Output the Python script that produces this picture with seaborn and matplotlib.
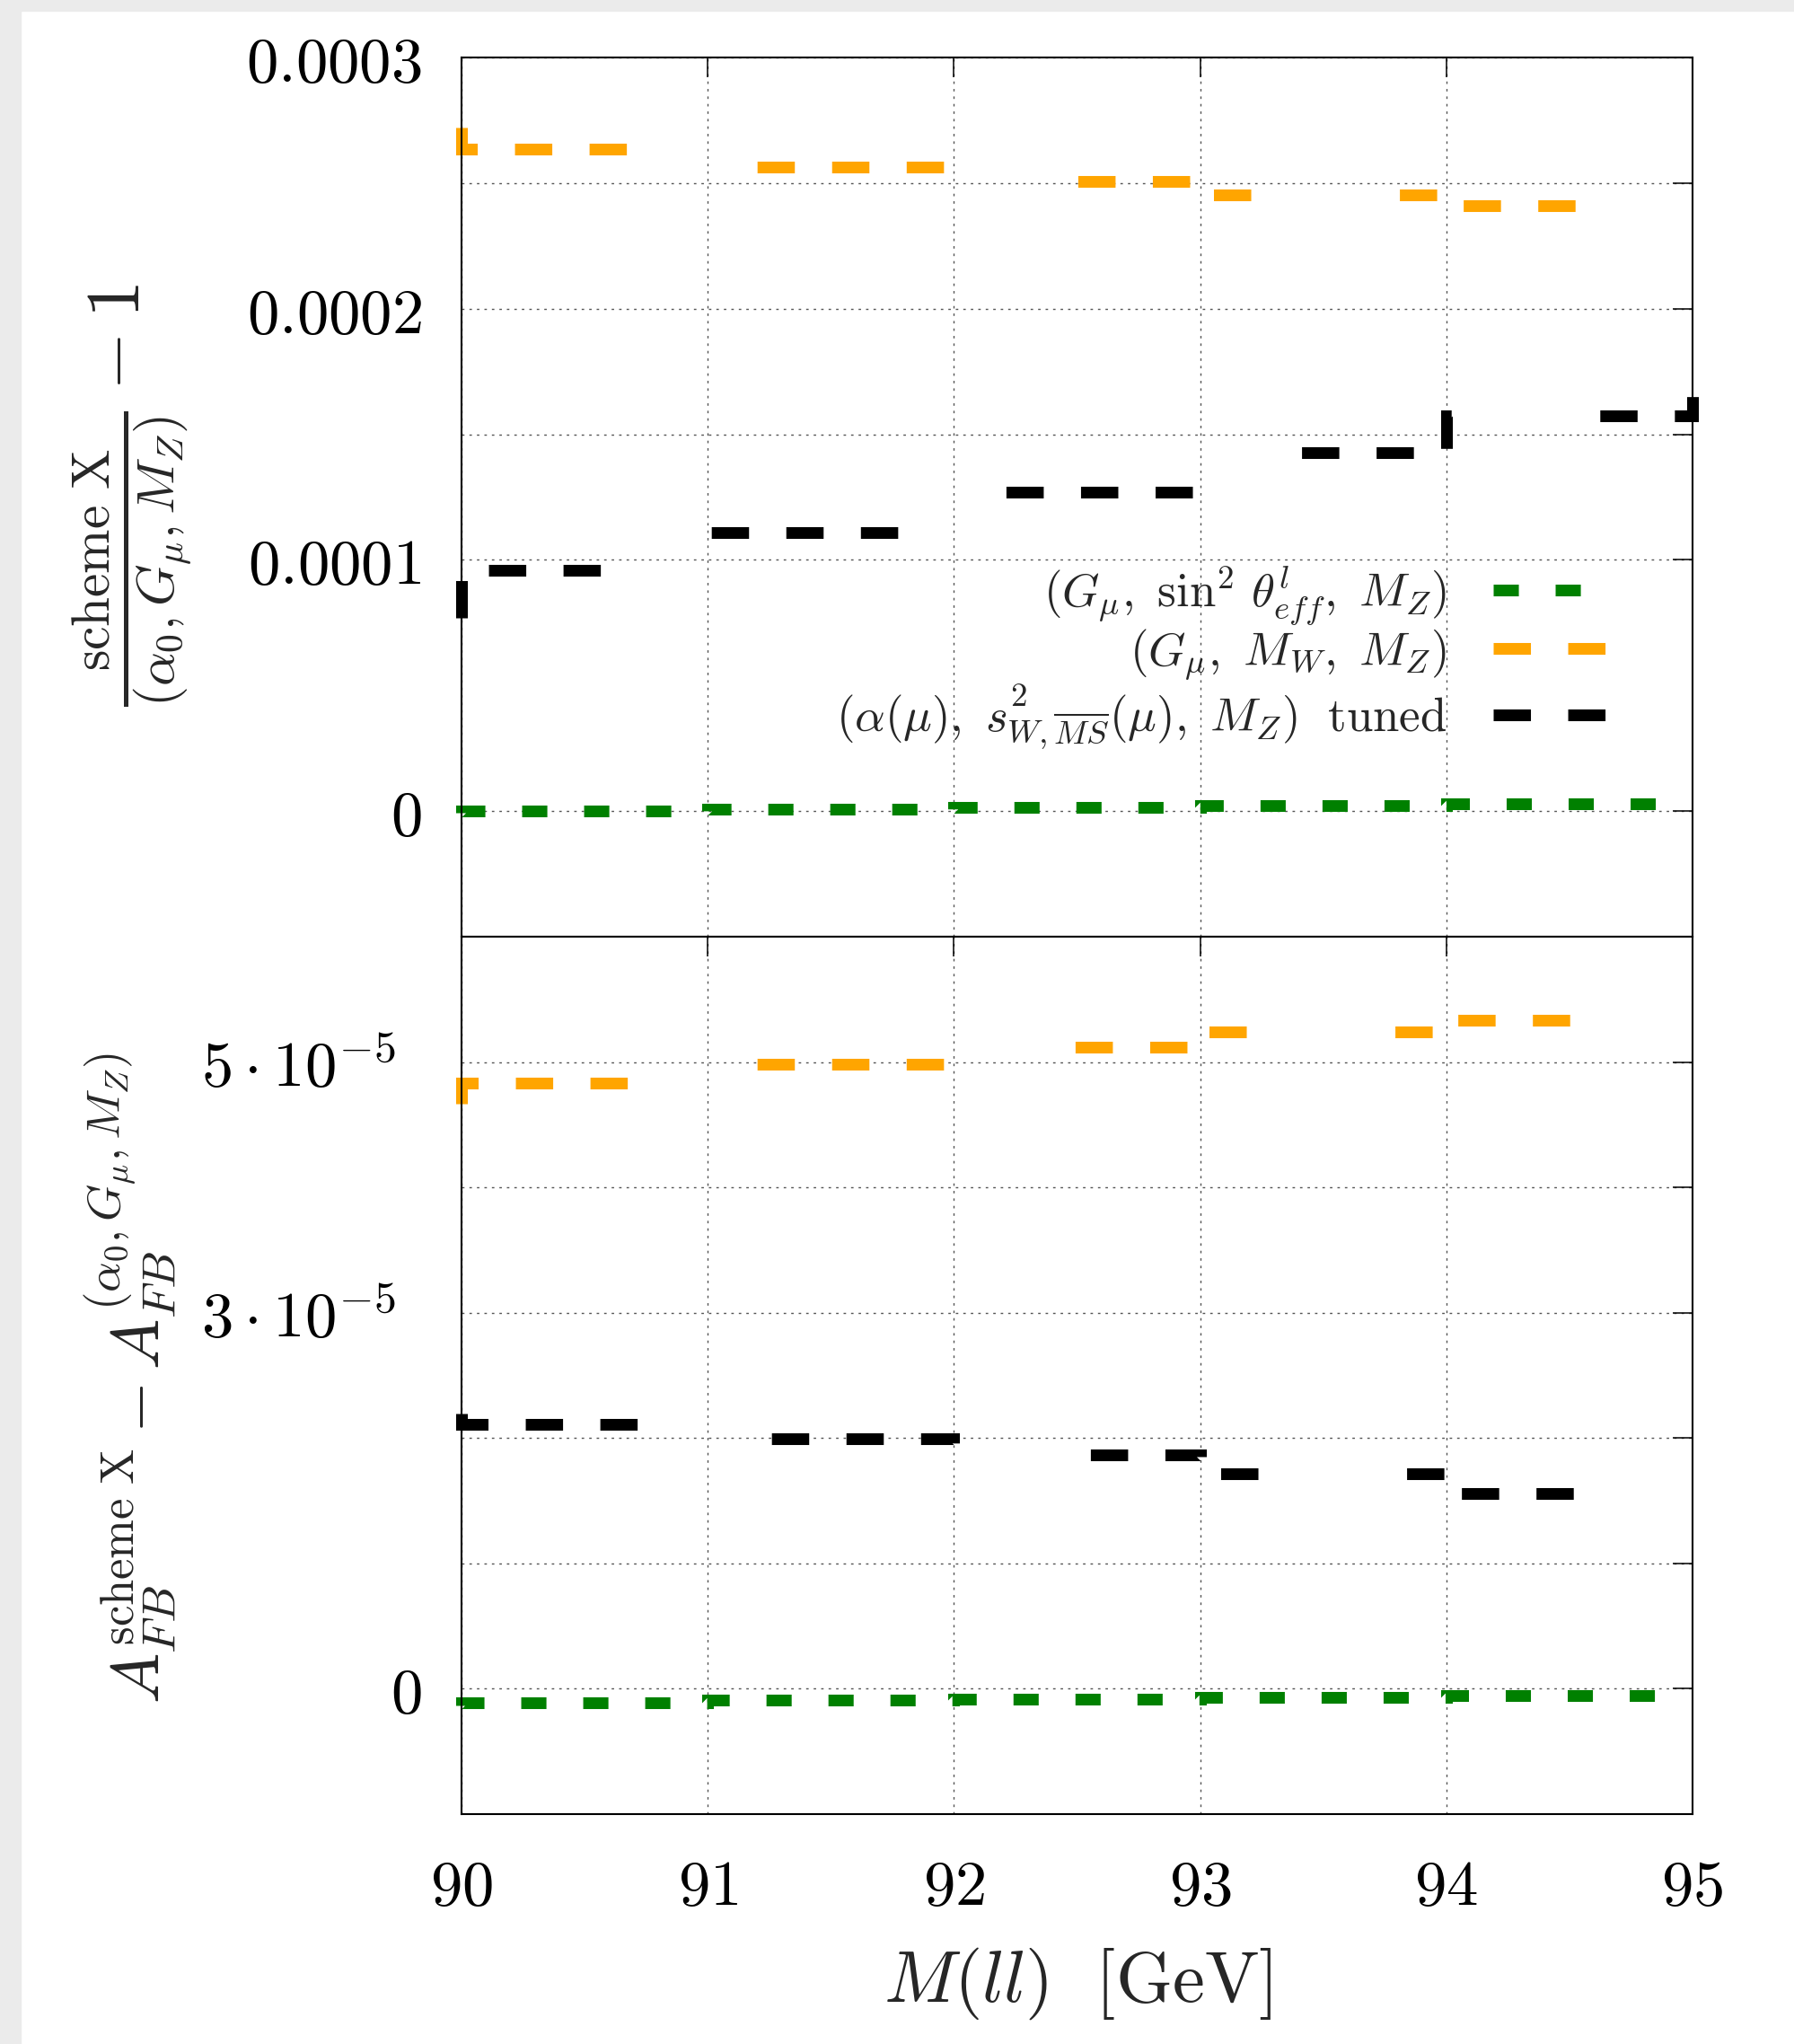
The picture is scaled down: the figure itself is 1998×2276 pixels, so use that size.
import numpy as np
import pandas as pd
import matplotlib
matplotlib.use("Agg")
import matplotlib.pyplot as plt
import matplotlib.transforms as mtransforms
import seaborn as sns
from matplotlib.patches import Rectangle
from matplotlib.ticker import FixedLocator, FixedFormatter

# ---------------- data ----------------
bin_lo = [90, 91, 92, 93, 94]
x_hi = 95

# top panel: ratio scheme X / (alpha0, Gmu, MZ) - 1
green_top_start, green_top_end = -0.5e-6, 3.05e-6
green_top = [0.2e-6, 0.93e-6, 1.65e-6, 2.33e-6, 3.05e-6]
orange_top_start, orange_top_end = 2.72e-4, 2.38e-4
orange_top = [2.635e-4, 2.565e-4, 2.505e-4, 2.453e-4, 2.409e-4]
black_top_start, black_top_end = 0.769e-4, 1.72e-4
black_top = [0.958e-4, 1.109e-4, 1.268e-4, 1.427e-4, 1.573e-4]

# bottom panel: A_FB difference
green_bot_start, green_bot_end = -1.3e-6, -0.54e-6
green_bot = [-1.09e-6, -0.92e-6, -0.80e-6, -0.66e-6, -0.54e-6]
orange_bot_start, orange_bot_end = 4.667e-5, 5.40e-5
orange_bot = [4.834e-5, 4.98e-5, 5.118e-5, 5.238e-5, 5.336e-5]
black_bot_start, black_bot_end = 2.199e-5, 1.50e-5
black_bot = [2.108e-5, 1.998e-5, 1.866e-5, 1.716e-5, 1.560e-5]

labels = [r"$(G_\mu,\ \sin^2\,\theta^l_{eff},\ M_Z)$",
          r"$(G_\mu,\ M_W,\ M_Z)$",
          r"$(\alpha(\mu),\ s^2_{W,\overline{MS}}(\mu),\ M_Z)\ \ \mathrm{tuned}$"]

x_ticks = [90, 91, 92, 93, 94, 95]
x_ticklabels = ["90", "91", "92", "93", "94", "95"]
top_yticks = [0, 1e-4, 1.5e-4, 2e-4, 2.5e-4, 3e-4]
top_yticklabels = ["0", "0.0001", "", "0.0002", "", "0.0003"]
bot_yticks = [0, 1e-5, 2e-5, 3e-5, 4e-5, 5e-5]
bot_yticklabels = ["0", "", "", r"3\cdot 10^{-5}", "", r"5\cdot 10^{-5}"]

# ---------------- style ----------------
sns.set_style("white")
plt.rcParams["mathtext.fontset"] = "cm"
plt.rcParams["font.family"] = ["DejaVu Serif"]
plt.rcParams["lines.scale_dashes"] = False
plt.rcParams["axes.unicode_minus"] = True

GREEN, ORANGE, BLACK = "#008000", "#ffa500", "#000000"
LW = 9.4
DASH_G = (0, (20.2, 29.5))
DASH_OB = (0, (29.9, 29.9, 29.9, 29.9, 29.9, 119.2))

fig = plt.figure(figsize=(19.98, 22.76), dpi=100)
fig.patch.set_facecolor("white")
fig.patches.append(Rectangle((0, 1 - 12 / 2276), 1, 12 / 2276, transform=fig.transFigure,
                             color="#ebebeb", zorder=-10))
fig.patches.append(Rectangle((0, 0), 23 / 1998, 1, transform=fig.transFigure,
                             color="#ebebeb", zorder=-10))

ax1 = fig.add_axes([0.25726, 0.54174, 0.68619, 0.43014])
ax2 = fig.add_axes([0.25726, 0.11248, 0.68619, 0.42926])


def step_frame(start, vals, end):
    xs = [bin_lo[0]] + list(bin_lo) + [x_hi]
    ys = [start] + list(vals) + [end]
    return pd.DataFrame({"x": xs, "y": ys})


def draw(ax, start, vals, end, color, dash):
    df = step_frame(start, vals, end)
    sns.lineplot(data=df, x="x", y="y", ax=ax, estimator=None, sort=False,
                 color=color, lw=LW, linestyle=dash, drawstyle="steps-post",
                 clip_on=False, legend=False)
    line = ax.get_lines()[-1]
    line.set_dash_joinstyle("miter")
    line.set_dash_capstyle("butt")
    line.set_zorder(3)
    return line


l_g = draw(ax1, green_top_start, green_top, green_top_end, GREEN, DASH_G)
l_o = draw(ax1, orange_top_start, orange_top, orange_top_end, ORANGE, DASH_OB)
l_b = draw(ax1, black_top_start, black_top, black_top_end, BLACK, DASH_OB)

draw(ax2, green_bot_start, green_bot, green_bot_end, GREEN, DASH_G)
draw(ax2, orange_bot_start, orange_bot, orange_bot_end, ORANGE, DASH_OB)
draw(ax2, black_bot_start, black_bot, black_bot_end, BLACK, DASH_OB)

for ax in (ax1, ax2):
    ax.set_xlim(90, 95)
    ax.set_xlabel("")
    ax.set_ylabel("")
    ax.set_axisbelow(True)
    ax.xaxis.set_major_locator(FixedLocator(x_ticks))
    ax.grid(True, color="#555555", linestyle=(0, (2.0, 4.0)), lw=1.0)
    ax.tick_params(direction="in", length=16, width=1.1, top=True, right=True,
                   labelsize=51, colors="black")
    ax.tick_params(axis="y", pad=32)
    for sp in ax.spines.values():
        sp.set_linewidth(1.5)
        sp.set_color("black")
        sp.set_zorder(4)

ax1.set_ylim(-5e-5, 3e-4)
ax2.set_ylim(-1e-5, 6e-5)

ax1.yaxis.set_major_locator(FixedLocator(top_yticks))
ax1.yaxis.set_major_formatter(FixedFormatter(
    [("$%s$" % t) if t else "" for t in top_yticklabels]))
ax2.yaxis.set_major_locator(FixedLocator(bot_yticks))
ax2.yaxis.set_major_formatter(FixedFormatter(
    [("$%s$" % t) if t else "" for t in bot_yticklabels]))

ax1.tick_params(axis="x", labelbottom=False)
ax2.xaxis.set_major_formatter(FixedFormatter(["$%s$" % t for t in x_ticklabels]))
ax2.tick_params(axis="x", pad=34)

# the "n . 10^-5" labels sit a little further from the axis in the reference
shift = mtransforms.ScaledTranslation(-29 / 100, 0, fig.dpi_scale_trans)
for tick, txt in zip(ax2.yaxis.get_major_ticks(), bot_yticklabels):
    if "10" in txt:
        tick.label1.set_transform(tick.label1.get_transform() + shift)

leg = ax1.legend(handles=[l_g, l_o, l_b], labels=labels, loc="center right",
                 bbox_to_anchor=(0.929, 0.3170), frameon=False, markerfirst=False,
                 fontsize=38, handlelength=2.37, handletextpad=0.98,
                 labelspacing=0.0, borderpad=0, borderaxespad=0)

fig.text(0.0736, 0.7575, r"$\frac{\mathrm{scheme\ X}}{(\alpha_0,G_\mu,M_Z)} - 1$",
         rotation=90, ha="center", va="center", fontsize=61)
fig.text(0.073, 0.3256, r"$A_{FB}^{\mathrm{scheme\ X}} - A_{FB}^{(\alpha_0,G_\mu,M_Z)}$",
         rotation=90, ha="center", va="center", fontsize=54)
fig.text(0.6006, 0.0297, r"$M(ll)\ \ [\mathrm{GeV}]$", ha="center", va="center",
         fontsize=58)

fig.savefig("out.png", dpi=100)
